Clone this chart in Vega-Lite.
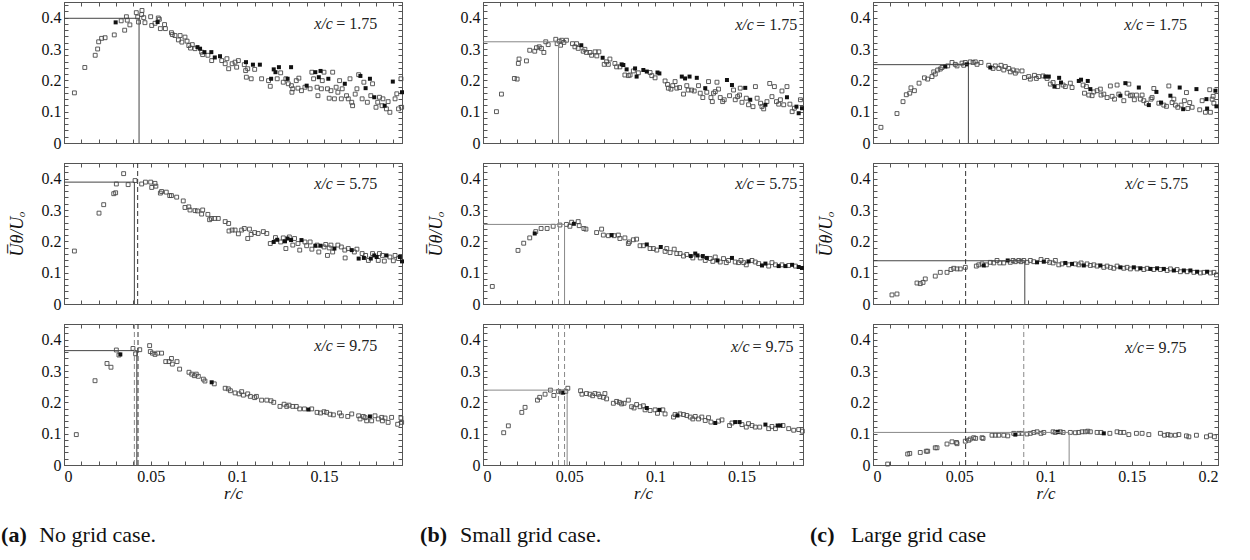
{
"$schema":"https://vega.github.io/schema/vega-lite/v6.json",
"padding":{"left":0,"top":1,"right":0,"bottom":0},
"background":"white",
"config":{"axis":{"labelFont":"Liberation Serif, Times New Roman, serif","labelFontSize":16,"labelColor":"#111","titleFont":"Liberation Serif, Times New Roman, serif","titleFontSize":17,"titleFontStyle":"italic","titleFontWeight":"normal","titleColor":"#111","tickColor":"#555","domainColor":"#555","tickSize":-4,"grid":false,"labelPadding":7},"view":{"stroke":"#555","strokeWidth":1}},
"datasets":{
"a1":[{"r":0.006,"u":0.16},{"r":0.012,"u":0.241},{"r":0.018,"u":0.28},{"r":0.0194,"u":0.3},{"r":0.02,"u":0.323},{"r":0.0217,"u":0.334},{"r":0.0237,"u":0.336},{"r":0.029,"u":0.345},{"r":0.0298,"u":0.385,"f":1},{"r":0.033,"u":0.39},{"r":0.035,"u":0.36},{"r":0.036,"u":0.403},{"r":0.0365,"u":0.392},{"r":0.038,"u":0.377},{"r":0.0417,"u":0.416},{"r":0.0425,"u":0.402},{"r":0.043,"u":0.386},{"r":0.045,"u":0.423},{"r":0.0448,"u":0.41},{"r":0.0467,"u":0.384},{"r":0.046,"u":0.4},{"r":0.05,"u":0.403},{"r":0.0506,"u":0.375},{"r":0.0525,"u":0.382},{"r":0.054,"u":0.386,"f":1},{"r":0.0544,"u":0.399},{"r":0.055,"u":0.395},{"r":0.0556,"u":0.365},{"r":0.058,"u":0.378},{"r":0.0585,"u":0.365},{"r":0.062,"u":0.352},{"r":0.0625,"u":0.346},{"r":0.064,"u":0.343},{"r":0.066,"u":0.329},{"r":0.067,"u":0.343},{"r":0.068,"u":0.322},{"r":0.0698,"u":0.338},{"r":0.071,"u":0.325},{"r":0.072,"u":0.311},{"r":0.073,"u":0.303},{"r":0.074,"u":0.314},{"r":0.0756,"u":0.301},{"r":0.077,"u":0.306,"f":1},{"r":0.0785,"u":0.301,"f":1},{"r":0.0794,"u":0.29},{"r":0.08,"u":0.282},{"r":0.081,"u":0.29,"f":1},{"r":0.083,"u":0.28},{"r":0.085,"u":0.29,"f":1},{"r":0.0852,"u":0.263},{"r":0.087,"u":0.273,"f":1},{"r":0.09,"u":0.277,"f":1},{"r":0.091,"u":0.263},{"r":0.093,"u":0.253},{"r":0.094,"u":0.269},{"r":0.095,"u":0.237},{"r":0.097,"u":0.253},{"r":0.0987,"u":0.258},{"r":0.0996,"u":0.242},{"r":0.1006,"u":0.263},{"r":0.104,"u":0.25},{"r":0.105,"u":0.258,"f":1},{"r":0.1048,"u":0.231},{"r":0.106,"u":0.237},{"r":0.1052,"u":0.21},{"r":0.108,"u":0.205},{"r":0.109,"u":0.25,"f":1},{"r":0.11,"u":0.235},{"r":0.113,"u":0.25,"f":1},{"r":0.114,"u":0.205},{"r":0.118,"u":0.199},{"r":0.119,"u":0.181},{"r":0.1195,"u":0.205,"f":1},{"r":0.121,"u":0.235,"f":1},{"r":0.122,"u":0.226,"f":1},{"r":0.123,"u":0.205},{"r":0.124,"u":0.242,"f":1},{"r":0.125,"u":0.224},{"r":0.1265,"u":0.194},{"r":0.128,"u":0.205},{"r":0.129,"u":0.205,"f":1},{"r":0.1294,"u":0.189},{"r":0.131,"u":0.242,"f":1},{"r":0.1312,"u":0.183},{"r":0.1315,"u":0.162},{"r":0.132,"u":0.173},{"r":0.134,"u":0.199},{"r":0.135,"u":0.175},{"r":0.1355,"u":0.207},{"r":0.137,"u":0.167},{"r":0.139,"u":0.178},{"r":0.14,"u":0.183,"f":1},{"r":0.142,"u":0.173},{"r":0.143,"u":0.226},{"r":0.144,"u":0.205},{"r":0.145,"u":0.226,"f":1},{"r":0.146,"u":0.178},{"r":0.1465,"u":0.151},{"r":0.147,"u":0.21,"f":1},{"r":0.148,"u":0.23,"f":1},{"r":0.1485,"u":0.173},{"r":0.149,"u":0.199},{"r":0.15,"u":0.226},{"r":0.152,"u":0.173},{"r":0.1525,"u":0.205,"f":1},{"r":0.153,"u":0.143},{"r":0.154,"u":0.167},{"r":0.155,"u":0.226},{"r":0.156,"u":0.141},{"r":0.157,"u":0.178},{"r":0.158,"u":0.162},{"r":0.159,"u":0.199},{"r":0.16,"u":0.141},{"r":0.1605,"u":0.173},{"r":0.162,"u":0.189,"f":1},{"r":0.163,"u":0.151},{"r":0.164,"u":0.141},{"r":0.165,"u":0.205},{"r":0.166,"u":0.13},{"r":0.1665,"u":0.119},{"r":0.168,"u":0.156},{"r":0.169,"u":0.173},{"r":0.17,"u":0.218},{"r":0.171,"u":0.214,"f":1},{"r":0.172,"u":0.141},{"r":0.173,"u":0.194},{"r":0.174,"u":0.175,"f":1},{"r":0.175,"u":0.13},{"r":0.1765,"u":0.205,"f":1},{"r":0.177,"u":0.151},{"r":0.178,"u":0.189},{"r":0.179,"u":0.146,"f":1},{"r":0.18,"u":0.114},{"r":0.181,"u":0.13},{"r":0.182,"u":0.146},{"r":0.1835,"u":0.119},{"r":0.184,"u":0.141},{"r":0.185,"u":0.119,"f":1},{"r":0.186,"u":0.109},{"r":0.187,"u":0.132},{"r":0.188,"u":0.098},{"r":0.1897,"u":0.196,"f":1},{"r":0.191,"u":0.141},{"r":0.192,"u":0.157},{"r":0.193,"u":0.109},{"r":0.1944,"u":0.205},{"r":0.195,"u":0.162,"f":1},{"r":0.1948,"u":0.114}],
"a1r":[{"r":0,"r2":0.0433,"u":0.398,"u2":0.398,"t":"s"},{"r":0.0433,"r2":0.0433,"u":0,"u2":0.398,"t":"s"}],
"a5":[{"r":0.006,"u":0.169},{"r":0.0202,"u":0.29},{"r":0.0229,"u":0.317},{"r":0.0287,"u":0.352},{"r":0.0298,"u":0.355},{"r":0.0302,"u":0.383},{"r":0.0344,"u":0.416},{"r":0.037,"u":0.381},{"r":0.041,"u":0.394},{"r":0.0448,"u":0.383},{"r":0.047,"u":0.389},{"r":0.05,"u":0.389},{"r":0.0506,"u":0.372},{"r":0.0525,"u":0.385},{"r":0.053,"u":0.376},{"r":0.0556,"u":0.354},{"r":0.0563,"u":0.359},{"r":0.059,"u":0.357},{"r":0.061,"u":0.346},{"r":0.062,"u":0.346},{"r":0.065,"u":0.341},{"r":0.0688,"u":0.329},{"r":0.0698,"u":0.308},{"r":0.072,"u":0.31},{"r":0.0727,"u":0.3},{"r":0.0756,"u":0.298},{"r":0.077,"u":0.297},{"r":0.0794,"u":0.287},{"r":0.08,"u":0.3},{"r":0.083,"u":0.286},{"r":0.084,"u":0.269},{"r":0.085,"u":0.273},{"r":0.087,"u":0.273},{"r":0.089,"u":0.273},{"r":0.093,"u":0.263},{"r":0.095,"u":0.257},{"r":0.0952,"u":0.233},{"r":0.097,"u":0.236},{"r":0.0987,"u":0.236},{"r":0.1006,"u":0.224},{"r":0.1025,"u":0.236},{"r":0.104,"u":0.241},{"r":0.106,"u":0.209},{"r":0.107,"u":0.239},{"r":0.108,"u":0.222},{"r":0.11,"u":0.228},{"r":0.112,"u":0.225},{"r":0.115,"u":0.231},{"r":0.117,"u":0.225},{"r":0.119,"u":0.193},{"r":0.121,"u":0.198,"f":1},{"r":0.122,"u":0.212},{"r":0.123,"u":0.205,"f":1},{"r":0.125,"u":0.198},{"r":0.1265,"u":0.211},{"r":0.1275,"u":0.2,"f":1},{"r":0.128,"u":0.177},{"r":0.129,"u":0.209,"f":1},{"r":0.13,"u":0.214},{"r":0.131,"u":0.204,"f":1},{"r":0.132,"u":0.188},{"r":0.133,"u":0.209},{"r":0.135,"u":0.193},{"r":0.136,"u":0.172},{"r":0.137,"u":0.204,"f":1},{"r":0.139,"u":0.198},{"r":0.14,"u":0.186},{"r":0.142,"u":0.198},{"r":0.143,"u":0.175},{"r":0.145,"u":0.186,"f":1},{"r":0.146,"u":0.188},{"r":0.147,"u":0.166},{"r":0.148,"u":0.186,"f":1},{"r":0.15,"u":0.182},{"r":0.151,"u":0.19},{"r":0.152,"u":0.155},{"r":0.153,"u":0.179},{"r":0.154,"u":0.188},{"r":0.155,"u":0.166},{"r":0.156,"u":0.177,"f":1},{"r":0.158,"u":0.188},{"r":0.16,"u":0.182},{"r":0.162,"u":0.172},{"r":0.1622,"u":0.147},{"r":0.164,"u":0.177},{"r":0.166,"u":0.172,"f":1},{"r":0.1675,"u":0.166},{"r":0.169,"u":0.175},{"r":0.17,"u":0.145,"f":1},{"r":0.172,"u":0.161},{"r":0.173,"u":0.147,"f":1},{"r":0.174,"u":0.155},{"r":0.1756,"u":0.139},{"r":0.177,"u":0.145,"f":1},{"r":0.178,"u":0.161},{"r":0.179,"u":0.155,"f":1},{"r":0.1804,"u":0.15,"f":1},{"r":0.1813,"u":0.139},{"r":0.182,"u":0.161},{"r":0.1837,"u":0.155},{"r":0.1848,"u":0.137},{"r":0.186,"u":0.155,"f":1},{"r":0.188,"u":0.15},{"r":0.19,"u":0.138},{"r":0.191,"u":0.155},{"r":0.193,"u":0.145},{"r":0.1938,"u":0.15,"f":1},{"r":0.195,"u":0.136,"f":1}],
"a5r":[{"r":0,"r2":0.0406,"u":0.389,"u2":0.389,"t":"s"},{"r":0.0406,"r2":0.0406,"u":0,"u2":0.389,"t":"s"},{"r":0.0425,"r2":0.0425,"u":0,"u2":0.45,"t":"d"}],
"a9":[{"r":0.0071,"u":0.097},{"r":0.0179,"u":0.269},{"r":0.0248,"u":0.324},{"r":0.0271,"u":0.312},{"r":0.0302,"u":0.367},{"r":0.0317,"u":0.351},{"r":0.0325,"u":0.353,"f":1},{"r":0.0398,"u":0.372},{"r":0.0413,"u":0.355},{"r":0.0437,"u":0.368},{"r":0.0494,"u":0.381},{"r":0.0498,"u":0.362},{"r":0.051,"u":0.357},{"r":0.0525,"u":0.353},{"r":0.054,"u":0.357},{"r":0.0563,"u":0.357},{"r":0.0587,"u":0.33},{"r":0.0606,"u":0.33},{"r":0.062,"u":0.34},{"r":0.0625,"u":0.322},{"r":0.0652,"u":0.33},{"r":0.0667,"u":0.306},{"r":0.0721,"u":0.296},{"r":0.0737,"u":0.29},{"r":0.0752,"u":0.285},{"r":0.0763,"u":0.29},{"r":0.0775,"u":0.283},{"r":0.0804,"u":0.274},{"r":0.0813,"u":0.268},{"r":0.0852,"u":0.264,"f":1},{"r":0.0867,"u":0.259},{"r":0.093,"u":0.245},{"r":0.0948,"u":0.243},{"r":0.096,"u":0.237},{"r":0.0987,"u":0.23},{"r":0.101,"u":0.227},{"r":0.1025,"u":0.234},{"r":0.1035,"u":0.223},{"r":0.106,"u":0.227},{"r":0.1075,"u":0.219},{"r":0.11,"u":0.215},{"r":0.111,"u":0.219},{"r":0.114,"u":0.207},{"r":0.117,"u":0.207},{"r":0.1194,"u":0.205},{"r":0.121,"u":0.2},{"r":0.1246,"u":0.187},{"r":0.127,"u":0.194},{"r":0.1285,"u":0.187},{"r":0.1298,"u":0.191},{"r":0.132,"u":0.187},{"r":0.134,"u":0.187},{"r":0.136,"u":0.179},{"r":0.1387,"u":0.179},{"r":0.141,"u":0.177,"f":1},{"r":0.1429,"u":0.179},{"r":0.146,"u":0.168},{"r":0.148,"u":0.166},{"r":0.15,"u":0.17},{"r":0.1515,"u":0.168},{"r":0.1535,"u":0.162},{"r":0.1554,"u":0.16},{"r":0.159,"u":0.166},{"r":0.16,"u":0.157},{"r":0.1637,"u":0.155},{"r":0.166,"u":0.163},{"r":0.17,"u":0.157},{"r":0.1708,"u":0.147},{"r":0.1727,"u":0.155},{"r":0.1737,"u":0.151},{"r":0.1746,"u":0.141},{"r":0.1765,"u":0.155,"f":1},{"r":0.1775,"u":0.141},{"r":0.1794,"u":0.157},{"r":0.1813,"u":0.147},{"r":0.1833,"u":0.152},{"r":0.1837,"u":0.141},{"r":0.1852,"u":0.15},{"r":0.187,"u":0.136},{"r":0.189,"u":0.152},{"r":0.1925,"u":0.13},{"r":0.1944,"u":0.15},{"r":0.1948,"u":0.136}],
"a9r":[{"r":0,"r2":0.042,"u":0.365,"u2":0.365,"t":"s"},{"r":0.042,"r2":0.042,"u":0,"u2":0.365,"t":"s"},{"r":0.0406,"r2":0.0406,"u":0,"u2":0.45,"t":"dg"},{"r":0.0427,"r2":0.0427,"u":0,"u2":0.45,"t":"d"}],
"b1":[{"r":0.0078,"u":0.1},{"r":0.0107,"u":0.156},{"r":0.0182,"u":0.206},{"r":0.0198,"u":0.204},{"r":0.0205,"u":0.254},{"r":0.0209,"u":0.268},{"r":0.0252,"u":0.262},{"r":0.0271,"u":0.296},{"r":0.03,"u":0.293},{"r":0.031,"u":0.304},{"r":0.0326,"u":0.307},{"r":0.0339,"u":0.302},{"r":0.0353,"u":0.289},{"r":0.0364,"u":0.323},{"r":0.0378,"u":0.314},{"r":0.0422,"u":0.331},{"r":0.043,"u":0.317},{"r":0.0442,"u":0.325},{"r":0.045,"u":0.312},{"r":0.0457,"u":0.328},{"r":0.0469,"u":0.321},{"r":0.0484,"u":0.328},{"r":0.0519,"u":0.317},{"r":0.0533,"u":0.307},{"r":0.0543,"u":0.317},{"r":0.0552,"u":0.302},{"r":0.057,"u":0.312,"f":1},{"r":0.0581,"u":0.293},{"r":0.0591,"u":0.299},{"r":0.06,"u":0.289},{"r":0.062,"u":0.289},{"r":0.063,"u":0.28},{"r":0.065,"u":0.291},{"r":0.066,"u":0.278},{"r":0.0672,"u":0.291},{"r":0.0694,"u":0.272,"f":1},{"r":0.0703,"u":0.251},{"r":0.0717,"u":0.259},{"r":0.0727,"u":0.251},{"r":0.0736,"u":0.268},{"r":0.0765,"u":0.254},{"r":0.0775,"u":0.243},{"r":0.0794,"u":0.243},{"r":0.0804,"u":0.251,"f":1},{"r":0.0814,"u":0.249,"f":1},{"r":0.0823,"u":0.217},{"r":0.0833,"u":0.235,"f":1},{"r":0.0843,"u":0.215},{"r":0.0853,"u":0.217},{"r":0.0872,"u":0.23},{"r":0.0882,"u":0.238,"f":1},{"r":0.0891,"u":0.212,"f":1},{"r":0.0901,"u":0.224},{"r":0.093,"u":0.233,"f":1},{"r":0.095,"u":0.228,"f":1},{"r":0.0969,"u":0.225},{"r":0.0979,"u":0.215},{"r":0.0998,"u":0.208},{"r":0.1012,"u":0.225,"f":1},{"r":0.1023,"u":0.222,"f":1},{"r":0.1056,"u":0.198},{"r":0.107,"u":0.187},{"r":0.1075,"u":0.175},{"r":0.109,"u":0.172},{"r":0.11,"u":0.183},{"r":0.1114,"u":0.196},{"r":0.1124,"u":0.175},{"r":0.114,"u":0.177},{"r":0.1153,"u":0.212,"f":1},{"r":0.1163,"u":0.156},{"r":0.1172,"u":0.206,"f":1},{"r":0.1182,"u":0.183},{"r":0.119,"u":0.169},{"r":0.1198,"u":0.212,"f":1},{"r":0.121,"u":0.169},{"r":0.1225,"u":0.166},{"r":0.124,"u":0.208,"f":1},{"r":0.125,"u":0.183},{"r":0.126,"u":0.159},{"r":0.1275,"u":0.145},{"r":0.1289,"u":0.175,"f":1},{"r":0.1298,"u":0.162},{"r":0.1308,"u":0.196},{"r":0.1322,"u":0.145},{"r":0.133,"u":0.132},{"r":0.1337,"u":0.159},{"r":0.1347,"u":0.164},{"r":0.1357,"u":0.194},{"r":0.1366,"u":0.172},{"r":0.1376,"u":0.145},{"r":0.139,"u":0.132},{"r":0.1399,"u":0.138},{"r":0.1415,"u":0.201,"f":1},{"r":0.143,"u":0.151},{"r":0.1444,"u":0.185,"f":1},{"r":0.1453,"u":0.169},{"r":0.1463,"u":0.138},{"r":0.1477,"u":0.148},{"r":0.1488,"u":0.153},{"r":0.1492,"u":0.175},{"r":0.1502,"u":0.13},{"r":0.1521,"u":0.176,"f":1},{"r":0.1527,"u":0.143},{"r":0.154,"u":0.122},{"r":0.155,"u":0.138,"f":1},{"r":0.1566,"u":0.116},{"r":0.158,"u":0.18},{"r":0.159,"u":0.143},{"r":0.161,"u":0.127},{"r":0.1618,"u":0.116},{"r":0.1628,"u":0.109},{"r":0.1638,"u":0.122,"f":1},{"r":0.1647,"u":0.132},{"r":0.1663,"u":0.19},{"r":0.1676,"u":0.148},{"r":0.169,"u":0.18},{"r":0.1702,"u":0.132},{"r":0.1715,"u":0.124},{"r":0.1725,"u":0.138},{"r":0.1734,"u":0.166},{"r":0.1744,"u":0.122},{"r":0.1763,"u":0.18},{"r":0.1763,"u":0.146,"f":1},{"r":0.178,"u":0.124},{"r":0.1793,"u":0.1},{"r":0.1806,"u":0.111},{"r":0.1818,"u":0.116,"f":1},{"r":0.1831,"u":0.095,"f":1},{"r":0.1841,"u":0.138},{"r":0.185,"u":0.111,"f":1}],
"b1r":[{"r":0,"r2":0.0438,"u":0.323,"u2":0.323,"t":"sg"},{"r":0.0438,"r2":0.0438,"u":0,"u2":0.323,"t":"sg"}],
"b5":[{"r":0.0054,"u":0.056},{"r":0.0203,"u":0.171},{"r":0.0236,"u":0.194},{"r":0.0271,"u":0.211},{"r":0.03,"u":0.225,"f":1},{"r":0.0306,"u":0.231},{"r":0.0337,"u":0.241},{"r":0.0372,"u":0.241},{"r":0.0407,"u":0.248},{"r":0.0446,"u":0.252},{"r":0.0484,"u":0.254},{"r":0.0504,"u":0.248},{"r":0.0514,"u":0.261},{"r":0.0527,"u":0.256,"f":1},{"r":0.0552,"u":0.263},{"r":0.0558,"u":0.25},{"r":0.0585,"u":0.241},{"r":0.0597,"u":0.239},{"r":0.0659,"u":0.228},{"r":0.0688,"u":0.239},{"r":0.0698,"u":0.22},{"r":0.0727,"u":0.218},{"r":0.0746,"u":0.22,"f":1},{"r":0.076,"u":0.218},{"r":0.0785,"u":0.22},{"r":0.0794,"u":0.209},{"r":0.0823,"u":0.211},{"r":0.0843,"u":0.193},{"r":0.0849,"u":0.198},{"r":0.0872,"u":0.205},{"r":0.0891,"u":0.207},{"r":0.0911,"u":0.186},{"r":0.093,"u":0.186},{"r":0.095,"u":0.19,"f":1},{"r":0.0969,"u":0.177},{"r":0.0988,"u":0.177},{"r":0.1008,"u":0.172},{"r":0.1031,"u":0.182,"f":1},{"r":0.1056,"u":0.168},{"r":0.1066,"u":0.177},{"r":0.1085,"u":0.164},{"r":0.1109,"u":0.175},{"r":0.1124,"u":0.161},{"r":0.1143,"u":0.161},{"r":0.1163,"u":0.153},{"r":0.1182,"u":0.158},{"r":0.1205,"u":0.153,"f":1},{"r":0.1217,"u":0.147},{"r":0.1231,"u":0.161,"f":1},{"r":0.1244,"u":0.155,"f":1},{"r":0.126,"u":0.147},{"r":0.1275,"u":0.153,"f":1},{"r":0.1289,"u":0.139},{"r":0.1298,"u":0.147,"f":1},{"r":0.1318,"u":0.145},{"r":0.1333,"u":0.136},{"r":0.1347,"u":0.15},{"r":0.136,"u":0.139,"f":1},{"r":0.1376,"u":0.134},{"r":0.1395,"u":0.145},{"r":0.1411,"u":0.132},{"r":0.1424,"u":0.139},{"r":0.1444,"u":0.147,"f":1},{"r":0.1463,"u":0.134},{"r":0.1482,"u":0.132},{"r":0.1496,"u":0.139},{"r":0.1512,"u":0.132},{"r":0.1527,"u":0.125},{"r":0.154,"u":0.136,"f":1},{"r":0.156,"u":0.139},{"r":0.1579,"u":0.134},{"r":0.1599,"u":0.129},{"r":0.1618,"u":0.123,"f":1},{"r":0.1638,"u":0.129,"f":1},{"r":0.1657,"u":0.121},{"r":0.1676,"u":0.132},{"r":0.1696,"u":0.125},{"r":0.1715,"u":0.121,"f":1},{"r":0.1734,"u":0.125},{"r":0.1754,"u":0.121,"f":1},{"r":0.1773,"u":0.123},{"r":0.1793,"u":0.125,"f":1},{"r":0.1812,"u":0.121},{"r":0.1831,"u":0.118,"f":1},{"r":0.185,"u":0.115,"f":1}],
"b5r":[{"r":0,"r2":0.0473,"u":0.254,"u2":0.254,"t":"sg"},{"r":0.0473,"r2":0.0473,"u":0,"u2":0.254,"t":"sg"},{"r":0.0438,"r2":0.0438,"u":0,"u2":0.45,"t":"dg"}],
"b9":[{"r":0.012,"u":0.103},{"r":0.0147,"u":0.125},{"r":0.0225,"u":0.168},{"r":0.0244,"u":0.184},{"r":0.0316,"u":0.207},{"r":0.0329,"u":0.216},{"r":0.036,"u":0.226},{"r":0.0391,"u":0.239},{"r":0.0411,"u":0.222},{"r":0.0438,"u":0.235},{"r":0.0455,"u":0.233},{"r":0.0465,"u":0.231,"f":1},{"r":0.048,"u":0.235},{"r":0.0492,"u":0.245},{"r":0.0566,"u":0.237},{"r":0.0574,"u":0.226},{"r":0.06,"u":0.228},{"r":0.062,"u":0.226},{"r":0.0636,"u":0.221},{"r":0.0649,"u":0.228},{"r":0.0669,"u":0.226},{"r":0.0678,"u":0.218},{"r":0.0698,"u":0.216},{"r":0.0707,"u":0.228},{"r":0.0717,"u":0.211},{"r":0.0756,"u":0.197},{"r":0.0775,"u":0.203},{"r":0.0791,"u":0.2},{"r":0.0804,"u":0.195},{"r":0.0818,"u":0.197},{"r":0.0843,"u":0.207},{"r":0.0862,"u":0.186},{"r":0.0876,"u":0.182},{"r":0.0891,"u":0.193},{"r":0.0911,"u":0.186},{"r":0.093,"u":0.189},{"r":0.094,"u":0.176},{"r":0.095,"u":0.182,"f":1},{"r":0.0969,"u":0.174},{"r":0.0998,"u":0.176},{"r":0.1012,"u":0.165},{"r":0.1023,"u":0.176,"f":1},{"r":0.1043,"u":0.176},{"r":0.1056,"u":0.163},{"r":0.1105,"u":0.153},{"r":0.1114,"u":0.161},{"r":0.1128,"u":0.158,"f":1},{"r":0.1143,"u":0.163},{"r":0.1163,"u":0.161},{"r":0.1182,"u":0.158},{"r":0.1202,"u":0.153},{"r":0.1217,"u":0.147},{"r":0.1231,"u":0.155},{"r":0.125,"u":0.147},{"r":0.1269,"u":0.153},{"r":0.1289,"u":0.142},{"r":0.1308,"u":0.151},{"r":0.1322,"u":0.137},{"r":0.1347,"u":0.134,"f":1},{"r":0.1366,"u":0.14},{"r":0.1386,"u":0.144},{"r":0.143,"u":0.126},{"r":0.1444,"u":0.134},{"r":0.1463,"u":0.137,"f":1},{"r":0.1488,"u":0.137,"f":1},{"r":0.1502,"u":0.129},{"r":0.1527,"u":0.121},{"r":0.154,"u":0.132},{"r":0.156,"u":0.126},{"r":0.1579,"u":0.121},{"r":0.1605,"u":0.121},{"r":0.1638,"u":0.129,"f":1},{"r":0.1657,"u":0.116},{"r":0.1676,"u":0.123},{"r":0.1696,"u":0.116},{"r":0.1709,"u":0.126,"f":1},{"r":0.1725,"u":0.126,"f":1},{"r":0.174,"u":0.126},{"r":0.1773,"u":0.116},{"r":0.1802,"u":0.111},{"r":0.1831,"u":0.113},{"r":0.1852,"u":0.108}],
"b9r":[{"r":0,"r2":0.0488,"u":0.239,"u2":0.239,"t":"sg"},{"r":0.0488,"r2":0.0488,"u":0,"u2":0.239,"t":"sg"},{"r":0.0438,"r2":0.0438,"u":0,"u2":0.45,"t":"dg"},{"r":0.0473,"r2":0.0473,"u":0,"u2":0.45,"t":"dg"}],
"c1":[{"r":0.0046,"u":0.05},{"r":0.0139,"u":0.094},{"r":0.0174,"u":0.132},{"r":0.0193,"u":0.154},{"r":0.0213,"u":0.159},{"r":0.022,"u":0.176},{"r":0.024,"u":0.167},{"r":0.0267,"u":0.191},{"r":0.0298,"u":0.208},{"r":0.0317,"u":0.204},{"r":0.0342,"u":0.212},{"r":0.0352,"u":0.227},{"r":0.0361,"u":0.22},{"r":0.0375,"u":0.233},{"r":0.039,"u":0.236},{"r":0.04,"u":0.241},{"r":0.0419,"u":0.244,"f":1},{"r":0.0433,"u":0.246},{"r":0.0458,"u":0.257},{"r":0.0477,"u":0.251},{"r":0.0487,"u":0.246},{"r":0.0516,"u":0.255},{"r":0.0526,"u":0.248},{"r":0.0535,"u":0.257},{"r":0.0545,"u":0.251,"f":1},{"r":0.0564,"u":0.259},{"r":0.058,"u":0.257},{"r":0.0593,"u":0.259},{"r":0.0603,"u":0.251},{"r":0.0626,"u":0.257},{"r":0.0671,"u":0.248},{"r":0.068,"u":0.241,"f":1},{"r":0.0696,"u":0.238},{"r":0.0709,"u":0.246},{"r":0.0729,"u":0.238},{"r":0.0742,"u":0.248},{"r":0.0758,"u":0.233},{"r":0.0767,"u":0.244},{"r":0.0787,"u":0.238},{"r":0.0796,"u":0.227},{"r":0.0812,"u":0.233},{"r":0.0825,"u":0.223},{"r":0.0835,"u":0.23},{"r":0.0864,"u":0.23},{"r":0.0878,"u":0.209},{"r":0.0903,"u":0.212},{"r":0.0912,"u":0.204},{"r":0.0936,"u":0.216},{"r":0.0947,"u":0.206},{"r":0.0961,"u":0.212},{"r":0.0986,"u":0.214},{"r":0.0999,"u":0.212,"f":1},{"r":0.1009,"u":0.206},{"r":0.1019,"u":0.212,"f":1},{"r":0.1028,"u":0.188},{"r":0.1044,"u":0.193},{"r":0.1052,"u":0.18,"f":1},{"r":0.1071,"u":0.18},{"r":0.1079,"u":0.208,"f":1},{"r":0.109,"u":0.193,"f":1},{"r":0.1102,"u":0.185},{"r":0.1115,"u":0.18},{"r":0.1144,"u":0.191},{"r":0.1154,"u":0.177},{"r":0.1193,"u":0.198,"f":1},{"r":0.1206,"u":0.202,"f":1},{"r":0.1218,"u":0.185},{"r":0.1226,"u":0.159},{"r":0.1237,"u":0.18},{"r":0.1245,"u":0.198,"f":1},{"r":0.1251,"u":0.153},{"r":0.126,"u":0.172,"f":1},{"r":0.127,"u":0.151},{"r":0.128,"u":0.163},{"r":0.1299,"u":0.167},{"r":0.1318,"u":0.172},{"r":0.1322,"u":0.153},{"r":0.1338,"u":0.156},{"r":0.1357,"u":0.145},{"r":0.1376,"u":0.182},{"r":0.1386,"u":0.149},{"r":0.14,"u":0.14},{"r":0.1415,"u":0.185},{"r":0.1425,"u":0.156},{"r":0.1434,"u":0.151,"f":1},{"r":0.1454,"u":0.135},{"r":0.1463,"u":0.191,"f":1},{"r":0.1473,"u":0.159},{"r":0.1483,"u":0.188},{"r":0.1492,"u":0.151},{"r":0.1502,"u":0.153},{"r":0.1515,"u":0.138},{"r":0.1527,"u":0.153},{"r":0.1541,"u":0.177,"f":1},{"r":0.155,"u":0.14},{"r":0.156,"u":0.153},{"r":0.157,"u":0.135},{"r":0.1585,"u":0.127},{"r":0.1599,"u":0.121,"f":1},{"r":0.1612,"u":0.14},{"r":0.1618,"u":0.145},{"r":0.1628,"u":0.174},{"r":0.1643,"u":0.163,"f":1},{"r":0.1657,"u":0.127},{"r":0.167,"u":0.129,"f":1},{"r":0.1686,"u":0.121},{"r":0.1701,"u":0.117},{"r":0.1715,"u":0.182},{"r":0.1724,"u":0.151,"f":1},{"r":0.1734,"u":0.129},{"r":0.1744,"u":0.14},{"r":0.1753,"u":0.121},{"r":0.1767,"u":0.114},{"r":0.1778,"u":0.177,"f":1},{"r":0.1786,"u":0.121},{"r":0.1798,"u":0.108,"f":1},{"r":0.1805,"u":0.135},{"r":0.1817,"u":0.161},{"r":0.1825,"u":0.11},{"r":0.1836,"u":0.129},{"r":0.185,"u":0.114},{"r":0.1875,"u":0.172,"f":1},{"r":0.1894,"u":0.106},{"r":0.1908,"u":0.135},{"r":0.1927,"u":0.098},{"r":0.1933,"u":0.14,"f":1},{"r":0.1937,"u":0.11,"f":1},{"r":0.1952,"u":0.17},{"r":0.1956,"u":0.098},{"r":0.1966,"u":0.14},{"r":0.1972,"u":0.149},{"r":0.1976,"u":0.127},{"r":0.1985,"u":0.167,"f":1},{"r":0.1991,"u":0.117,"f":1}],
"c1r":[{"r":0,"r2":0.0553,"u":0.25,"u2":0.25,"t":"s"},{"r":0.0553,"r2":0.0553,"u":0,"u2":0.25,"t":"s"}],
"c5":[{"r":0.011,"u":0.029},{"r":0.0139,"u":0.032},{"r":0.0255,"u":0.067},{"r":0.0274,"u":0.065},{"r":0.029,"u":0.069},{"r":0.0303,"u":0.08},{"r":0.0361,"u":0.089},{"r":0.039,"u":0.101},{"r":0.0429,"u":0.101},{"r":0.0452,"u":0.11},{"r":0.0468,"u":0.114},{"r":0.0487,"u":0.112},{"r":0.0506,"u":0.112},{"r":0.0535,"u":0.117},{"r":0.0599,"u":0.121},{"r":0.0613,"u":0.125},{"r":0.0632,"u":0.128},{"r":0.0642,"u":0.123,"f":1},{"r":0.0657,"u":0.125},{"r":0.068,"u":0.133},{"r":0.07,"u":0.131},{"r":0.0719,"u":0.139},{"r":0.0735,"u":0.131},{"r":0.0758,"u":0.131},{"r":0.0781,"u":0.139,"f":1},{"r":0.0796,"u":0.133},{"r":0.0812,"u":0.139},{"r":0.0825,"u":0.135},{"r":0.0845,"u":0.139},{"r":0.0858,"u":0.135},{"r":0.0874,"u":0.139},{"r":0.0893,"u":0.133},{"r":0.0912,"u":0.139},{"r":0.0932,"u":0.135},{"r":0.0951,"u":0.133,"f":1},{"r":0.0974,"u":0.142},{"r":0.099,"u":0.135,"f":1},{"r":0.1009,"u":0.139},{"r":0.1024,"u":0.133},{"r":0.1044,"u":0.131},{"r":0.1057,"u":0.139},{"r":0.1077,"u":0.125},{"r":0.1096,"u":0.128},{"r":0.1115,"u":0.131,"f":1},{"r":0.1135,"u":0.125},{"r":0.1154,"u":0.128,"f":1},{"r":0.1173,"u":0.128},{"r":0.1193,"u":0.125},{"r":0.1206,"u":0.131},{"r":0.1222,"u":0.123,"f":1},{"r":0.1241,"u":0.128},{"r":0.126,"u":0.123},{"r":0.128,"u":0.125},{"r":0.1299,"u":0.121},{"r":0.1318,"u":0.123,"f":1},{"r":0.1338,"u":0.117},{"r":0.1357,"u":0.121},{"r":0.1376,"u":0.117},{"r":0.1396,"u":0.114},{"r":0.1415,"u":0.121},{"r":0.1434,"u":0.117,"f":1},{"r":0.1454,"u":0.114},{"r":0.1473,"u":0.117},{"r":0.1492,"u":0.112},{"r":0.1512,"u":0.117,"f":1},{"r":0.1531,"u":0.112},{"r":0.155,"u":0.114,"f":1},{"r":0.157,"u":0.11},{"r":0.1589,"u":0.114},{"r":0.1608,"u":0.112,"f":1},{"r":0.1628,"u":0.11},{"r":0.1647,"u":0.114,"f":1},{"r":0.1666,"u":0.11},{"r":0.1686,"u":0.112,"f":1},{"r":0.1705,"u":0.107},{"r":0.1724,"u":0.112},{"r":0.1744,"u":0.107,"f":1},{"r":0.1763,"u":0.11},{"r":0.1782,"u":0.103},{"r":0.1802,"u":0.107,"f":1},{"r":0.1821,"u":0.103},{"r":0.184,"u":0.107,"f":1},{"r":0.186,"u":0.101},{"r":0.1879,"u":0.103,"f":1},{"r":0.1898,"u":0.099},{"r":0.1918,"u":0.101},{"r":0.1937,"u":0.103,"f":1},{"r":0.1956,"u":0.099},{"r":0.1976,"u":0.101},{"r":0.1991,"u":0.093}],
"c5r":[{"r":0,"r2":0.088,"u":0.138,"u2":0.138,"t":"s"},{"r":0.088,"r2":0.088,"u":0,"u2":0.138,"t":"s"},{"r":0.0537,"r2":0.0537,"u":0,"u2":0.45,"t":"d"}],
"c9":[{"r":0.0085,"u":0.003},{"r":0.0201,"u":0.035},{"r":0.0213,"u":0.037},{"r":0.0274,"u":0.04},{"r":0.0309,"u":0.044},{"r":0.0317,"u":0.044},{"r":0.0361,"u":0.055},{"r":0.0371,"u":0.055},{"r":0.0429,"u":0.067},{"r":0.0458,"u":0.074},{"r":0.0484,"u":0.072},{"r":0.0487,"u":0.068},{"r":0.0535,"u":0.076},{"r":0.0555,"u":0.079},{"r":0.0564,"u":0.083},{"r":0.0584,"u":0.087},{"r":0.0595,"u":0.085},{"r":0.0632,"u":0.087},{"r":0.0638,"u":0.085},{"r":0.069,"u":0.095},{"r":0.0709,"u":0.095},{"r":0.0729,"u":0.095},{"r":0.0758,"u":0.095},{"r":0.0781,"u":0.093},{"r":0.0816,"u":0.101},{"r":0.0825,"u":0.097,"f":1},{"r":0.0845,"u":0.101},{"r":0.0864,"u":0.101},{"r":0.0893,"u":0.099},{"r":0.0912,"u":0.101},{"r":0.0932,"u":0.104},{"r":0.0951,"u":0.106},{"r":0.0974,"u":0.101},{"r":0.099,"u":0.104},{"r":0.1044,"u":0.106},{"r":0.1057,"u":0.104},{"r":0.1071,"u":0.106,"f":1},{"r":0.1086,"u":0.106},{"r":0.1102,"u":0.104},{"r":0.1144,"u":0.104},{"r":0.1173,"u":0.103},{"r":0.1193,"u":0.104},{"r":0.1212,"u":0.106},{"r":0.1231,"u":0.106},{"r":0.1245,"u":0.108},{"r":0.126,"u":0.106},{"r":0.1299,"u":0.104},{"r":0.1322,"u":0.104},{"r":0.1338,"u":0.101,"f":1},{"r":0.1373,"u":0.101},{"r":0.1415,"u":0.106},{"r":0.1434,"u":0.104},{"r":0.1454,"u":0.104},{"r":0.1483,"u":0.097},{"r":0.1527,"u":0.101},{"r":0.156,"u":0.101},{"r":0.1599,"u":0.097},{"r":0.1666,"u":0.101},{"r":0.169,"u":0.095},{"r":0.1709,"u":0.097},{"r":0.1724,"u":0.095},{"r":0.1753,"u":0.095},{"r":0.1773,"u":0.097},{"r":0.1817,"u":0.093},{"r":0.1831,"u":0.09},{"r":0.1875,"u":0.095},{"r":0.1933,"u":0.09},{"r":0.1956,"u":0.095},{"r":0.1979,"u":0.09}],
"c9r":[{"r":0,"r2":0.1137,"u":0.104,"u2":0.104,"t":"sg"},{"r":0.1137,"r2":0.1137,"u":0,"u2":0.104,"t":"sg"},{"r":0.0537,"r2":0.0537,"u":0,"u2":0.45,"t":"d"},{"r":0.0874,"r2":0.0874,"u":0,"u2":0.45,"t":"dg"}]
},
"spacing":13,
"hconcat":[
{"bounds":"flush","spacing":20,"vconcat":[
{"width":338,"height":141,"resolve":{"axis":{"x":"independent","y":"independent"}},"layer":[
{"data":{"name":"a1"},"transform":[{"filter":"datum.f != 1"}],"mark":{"type":"point","shape":"square","filled":false,"size":15,"color":"#4a4a4a","strokeWidth":0.9,"opacity":1},"encoding":{"x":{"field":"r","type":"quantitative","scale":{"domain":[0,0.195],"nice":false,"zero":false},"axis":{"values":[0,0.01,0.02,0.03,0.04,0.05,0.06,0.07,0.08,0.09,0.1,0.11,0.12,0.13,0.14,0.15,0.16,0.17,0.18,0.19],"labels":false,"title":null}},"y":{"field":"u","type":"quantitative","scale":{"domain":[0,0.45],"nice":false},"axis":{"values":[0,0.02,0.04,0.06,0.08,0.1,0.12,0.14,0.16,0.18,0.2,0.22,0.24,0.26,0.28,0.3,0.32,0.34,0.36,0.38,0.4,0.42,0.44],"labelExpr":"abs(datum.value*10-round(datum.value*10))<0.001 ? format(datum.value,'~g') : ''","title":null}}}},
{"data":{"name":"a1"},"transform":[{"filter":"datum.f == 1"}],"mark":{"type":"square","size":16,"color":"#111","opacity":1},"encoding":{"x":{"field":"r","type":"quantitative","axis":null},"y":{"field":"u","type":"quantitative","axis":null}}},
{"data":{"name":"a1r"},"mark":{"type":"rule","strokeWidth":1},"encoding":{"x":{"field":"r","type":"quantitative","axis":null},"x2":{"field":"r2"},"y":{"field":"u","type":"quantitative","axis":null},"y2":{"field":"u2"},"strokeDash":{"field":"t","type":"nominal","scale":{"domain":["s","d","sg","dg"],"range":[[1,0],[5,3],[1,0],[5,3]]},"legend":null},"color":{"field":"t","type":"nominal","scale":{"domain":["s","d","sg","dg"],"range":["#444","#333","#888","#888"]},"legend":null}}},
{"data":{"values":[{"r":0.1444,"u":0.38,"s":"x/c"}]},"mark":{"type":"text","font":"Liberation Serif, Times New Roman, serif","fontSize":16,"fontStyle":"italic","align":"left","baseline":"middle","color":"#222"},"encoding":{"x":{"field":"r","type":"quantitative","axis":{"orient":"top","values":[0,0.01,0.02,0.03,0.04,0.05,0.06,0.07,0.08,0.09,0.1,0.11,0.12,0.13,0.14,0.15,0.16,0.17,0.18,0.19],"labels":false,"title":null}},"y":{"field":"u","type":"quantitative","axis":{"orient":"right","values":[0,0.02,0.04,0.06,0.08,0.1,0.12,0.14,0.16,0.18,0.2,0.22,0.24,0.26,0.28,0.3,0.32,0.34,0.36,0.38,0.4,0.42,0.44],"labels":false,"title":null}},"text":{"field":"s"}}},
{"data":{"values":[{"r":0.157,"u":0.38,"s":"= 1.75"}]},"mark":{"type":"text","font":"Liberation Serif, Times New Roman, serif","fontSize":16,"align":"left","baseline":"middle","color":"#222"},"encoding":{"x":{"field":"r","type":"quantitative","axis":null},"y":{"field":"u","type":"quantitative","axis":null},"text":{"field":"s"}}}
]},
{"width":338,"height":141,"resolve":{"axis":{"x":"independent","y":"independent"}},"layer":[
{"data":{"name":"a5"},"transform":[{"filter":"datum.f != 1"}],"mark":{"type":"point","shape":"square","filled":false,"size":15,"color":"#4a4a4a","strokeWidth":0.9,"opacity":1},"encoding":{"x":{"field":"r","type":"quantitative","scale":{"domain":[0,0.195],"nice":false,"zero":false},"axis":{"values":[0,0.01,0.02,0.03,0.04,0.05,0.06,0.07,0.08,0.09,0.1,0.11,0.12,0.13,0.14,0.15,0.16,0.17,0.18,0.19],"labels":false,"title":null}},"y":{"field":"u","type":"quantitative","scale":{"domain":[0,0.45],"nice":false},"axis":{"values":[0,0.02,0.04,0.06,0.08,0.1,0.12,0.14,0.16,0.18,0.2,0.22,0.24,0.26,0.28,0.3,0.32,0.34,0.36,0.38,0.4,0.42,0.44],"labelExpr":"abs(datum.value*10-round(datum.value*10))<0.001 ? format(datum.value,'~g') : ''","title":"U̅θ/Uₒ","titlePadding":15,"titleFontSize":18}}}},
{"data":{"name":"a5"},"transform":[{"filter":"datum.f == 1"}],"mark":{"type":"square","size":16,"color":"#111","opacity":1},"encoding":{"x":{"field":"r","type":"quantitative","axis":null},"y":{"field":"u","type":"quantitative","axis":null}}},
{"data":{"name":"a5r"},"mark":{"type":"rule","strokeWidth":1},"encoding":{"x":{"field":"r","type":"quantitative","axis":null},"x2":{"field":"r2"},"y":{"field":"u","type":"quantitative","axis":null},"y2":{"field":"u2"},"strokeDash":{"field":"t","type":"nominal","scale":{"domain":["s","d","sg","dg"],"range":[[1,0],[5,3],[1,0],[5,3]]},"legend":null},"color":{"field":"t","type":"nominal","scale":{"domain":["s","d","sg","dg"],"range":["#444","#333","#888","#888"]},"legend":null}}},
{"data":{"values":[{"r":0.1444,"u":0.383,"s":"x/c"}]},"mark":{"type":"text","font":"Liberation Serif, Times New Roman, serif","fontSize":16,"fontStyle":"italic","align":"left","baseline":"middle","color":"#222"},"encoding":{"x":{"field":"r","type":"quantitative","axis":{"orient":"top","values":[0,0.01,0.02,0.03,0.04,0.05,0.06,0.07,0.08,0.09,0.1,0.11,0.12,0.13,0.14,0.15,0.16,0.17,0.18,0.19],"labels":false,"title":null}},"y":{"field":"u","type":"quantitative","axis":{"orient":"right","values":[0,0.02,0.04,0.06,0.08,0.1,0.12,0.14,0.16,0.18,0.2,0.22,0.24,0.26,0.28,0.3,0.32,0.34,0.36,0.38,0.4,0.42,0.44],"labels":false,"title":null}},"text":{"field":"s"}}},
{"data":{"values":[{"r":0.157,"u":0.383,"s":"= 5.75"}]},"mark":{"type":"text","font":"Liberation Serif, Times New Roman, serif","fontSize":16,"align":"left","baseline":"middle","color":"#222"},"encoding":{"x":{"field":"r","type":"quantitative","axis":null},"y":{"field":"u","type":"quantitative","axis":null},"text":{"field":"s"}}}
]},
{"width":338,"height":141,"resolve":{"axis":{"x":"independent","y":"independent"}},"layer":[
{"data":{"name":"a9"},"transform":[{"filter":"datum.f != 1"}],"mark":{"type":"point","shape":"square","filled":false,"size":15,"color":"#4a4a4a","strokeWidth":0.9,"opacity":1},"encoding":{"x":{"field":"r","type":"quantitative","scale":{"domain":[0,0.195],"nice":false,"zero":false},"axis":{"values":[0,0.01,0.02,0.03,0.04,0.05,0.06,0.07,0.08,0.09,0.1,0.11,0.12,0.13,0.14,0.15,0.16,0.17,0.18,0.19],"labelExpr":"abs(datum.value*20-round(datum.value*20))<0.001 ? format(datum.value,'~g') : ''","title":"r/c","titlePadding":1}},"y":{"field":"u","type":"quantitative","scale":{"domain":[0,0.45],"nice":false},"axis":{"values":[0,0.02,0.04,0.06,0.08,0.1,0.12,0.14,0.16,0.18,0.2,0.22,0.24,0.26,0.28,0.3,0.32,0.34,0.36,0.38,0.4,0.42,0.44],"labelExpr":"abs(datum.value*10-round(datum.value*10))<0.001 ? format(datum.value,'~g') : ''","title":null}}}},
{"data":{"name":"a9"},"transform":[{"filter":"datum.f == 1"}],"mark":{"type":"square","size":16,"color":"#111","opacity":1},"encoding":{"x":{"field":"r","type":"quantitative","axis":null},"y":{"field":"u","type":"quantitative","axis":null}}},
{"data":{"name":"a9r"},"mark":{"type":"rule","strokeWidth":1},"encoding":{"x":{"field":"r","type":"quantitative","axis":null},"x2":{"field":"r2"},"y":{"field":"u","type":"quantitative","axis":null},"y2":{"field":"u2"},"strokeDash":{"field":"t","type":"nominal","scale":{"domain":["s","d","sg","dg"],"range":[[1,0],[5,3],[1,0],[5,3]]},"legend":null},"color":{"field":"t","type":"nominal","scale":{"domain":["s","d","sg","dg"],"range":["#444","#333","#888","#888"]},"legend":null}}},
{"data":{"values":[{"r":0.1444,"u":0.379,"s":"x/c"}]},"mark":{"type":"text","font":"Liberation Serif, Times New Roman, serif","fontSize":16,"fontStyle":"italic","align":"left","baseline":"middle","color":"#222"},"encoding":{"x":{"field":"r","type":"quantitative","axis":{"orient":"top","values":[0,0.01,0.02,0.03,0.04,0.05,0.06,0.07,0.08,0.09,0.1,0.11,0.12,0.13,0.14,0.15,0.16,0.17,0.18,0.19],"labels":false,"title":null}},"y":{"field":"u","type":"quantitative","axis":{"orient":"right","values":[0,0.02,0.04,0.06,0.08,0.1,0.12,0.14,0.16,0.18,0.2,0.22,0.24,0.26,0.28,0.3,0.32,0.34,0.36,0.38,0.4,0.42,0.44],"labels":false,"title":null}},"text":{"field":"s"}}},
{"data":{"values":[{"r":0.157,"u":0.379,"s":"= 9.75"}]},"mark":{"type":"text","font":"Liberation Serif, Times New Roman, serif","fontSize":16,"align":"left","baseline":"middle","color":"#222"},"encoding":{"x":{"field":"r","type":"quantitative","axis":null},"y":{"field":"u","type":"quantitative","axis":null},"text":{"field":"s"}}},
{"data":{"values":[{"r":-0.0363,"u":-0.222,"s":"(a)"}]},"mark":{"type":"text","font":"Liberation Serif, Times New Roman, serif","fontSize":22,"fontWeight":"bold","align":"left","baseline":"middle","color":"#111"},"encoding":{"x":{"field":"r","type":"quantitative","axis":null},"y":{"field":"u","type":"quantitative","axis":null},"text":{"field":"s"}}},
{"data":{"values":[{"r":-0.0143,"u":-0.222,"s":"No grid case."}]},"mark":{"type":"text","font":"Liberation Serif, Times New Roman, serif","fontSize":22,"align":"left","baseline":"middle","color":"#111"},"encoding":{"x":{"field":"r","type":"quantitative","axis":null},"y":{"field":"u","type":"quantitative","axis":null},"text":{"field":"s"}}}
]}
]},
{"spacing":2,"hconcat":[
{"bounds":"flush","spacing":20,"vconcat":[
{"width":320,"height":141,"resolve":{"axis":{"x":"independent","y":"independent"}},"layer":[
{"data":{"name":"b1"},"transform":[{"filter":"datum.f != 1"}],"mark":{"type":"point","shape":"square","filled":false,"size":15,"color":"#4a4a4a","strokeWidth":0.9,"opacity":1},"encoding":{"x":{"field":"r","type":"quantitative","scale":{"domain":[0,0.1856],"nice":false,"zero":false},"axis":{"values":[0,0.01,0.02,0.03,0.04,0.05,0.06,0.07,0.08,0.09,0.1,0.11,0.12,0.13,0.14,0.15,0.16,0.17,0.18],"labels":false,"title":null}},"y":{"field":"u","type":"quantitative","scale":{"domain":[0,0.45],"nice":false},"axis":{"values":[0,0.02,0.04,0.06,0.08,0.1,0.12,0.14,0.16,0.18,0.2,0.22,0.24,0.26,0.28,0.3,0.32,0.34,0.36,0.38,0.4,0.42,0.44],"labelExpr":"abs(datum.value*10-round(datum.value*10))<0.001 ? format(datum.value,'~g') : ''","title":null}}}},
{"data":{"name":"b1"},"transform":[{"filter":"datum.f == 1"}],"mark":{"type":"square","size":16,"color":"#111","opacity":1},"encoding":{"x":{"field":"r","type":"quantitative","axis":null},"y":{"field":"u","type":"quantitative","axis":null}}},
{"data":{"name":"b1r"},"mark":{"type":"rule","strokeWidth":1},"encoding":{"x":{"field":"r","type":"quantitative","axis":null},"x2":{"field":"r2"},"y":{"field":"u","type":"quantitative","axis":null},"y2":{"field":"u2"},"strokeDash":{"field":"t","type":"nominal","scale":{"domain":["s","d","sg","dg"],"range":[[1,0],[5,3],[1,0],[5,3]]},"legend":null},"color":{"field":"t","type":"nominal","scale":{"domain":["s","d","sg","dg"],"range":["#444","#333","#888","#888"]},"legend":null}}},
{"data":{"values":[{"r":0.1463,"u":0.378,"s":"x/c"}]},"mark":{"type":"text","font":"Liberation Serif, Times New Roman, serif","fontSize":16,"fontStyle":"italic","align":"left","baseline":"middle","color":"#222"},"encoding":{"x":{"field":"r","type":"quantitative","axis":{"orient":"top","values":[0,0.01,0.02,0.03,0.04,0.05,0.06,0.07,0.08,0.09,0.1,0.11,0.12,0.13,0.14,0.15,0.16,0.17,0.18],"labels":false,"title":null}},"y":{"field":"u","type":"quantitative","axis":{"orient":"right","values":[0,0.02,0.04,0.06,0.08,0.1,0.12,0.14,0.16,0.18,0.2,0.22,0.24,0.26,0.28,0.3,0.32,0.34,0.36,0.38,0.4,0.42,0.44],"labels":false,"title":null}},"text":{"field":"s"}}},
{"data":{"values":[{"r":0.1585,"u":0.378,"s":"= 1.75"}]},"mark":{"type":"text","font":"Liberation Serif, Times New Roman, serif","fontSize":16,"align":"left","baseline":"middle","color":"#222"},"encoding":{"x":{"field":"r","type":"quantitative","axis":null},"y":{"field":"u","type":"quantitative","axis":null},"text":{"field":"s"}}}
]},
{"width":320,"height":141,"resolve":{"axis":{"x":"independent","y":"independent"}},"layer":[
{"data":{"name":"b5"},"transform":[{"filter":"datum.f != 1"}],"mark":{"type":"point","shape":"square","filled":false,"size":15,"color":"#4a4a4a","strokeWidth":0.9,"opacity":1},"encoding":{"x":{"field":"r","type":"quantitative","scale":{"domain":[0,0.1856],"nice":false,"zero":false},"axis":{"values":[0,0.01,0.02,0.03,0.04,0.05,0.06,0.07,0.08,0.09,0.1,0.11,0.12,0.13,0.14,0.15,0.16,0.17,0.18],"labels":false,"title":null}},"y":{"field":"u","type":"quantitative","scale":{"domain":[0,0.45],"nice":false},"axis":{"values":[0,0.02,0.04,0.06,0.08,0.1,0.12,0.14,0.16,0.18,0.2,0.22,0.24,0.26,0.28,0.3,0.32,0.34,0.36,0.38,0.4,0.42,0.44],"labelExpr":"abs(datum.value*10-round(datum.value*10))<0.001 ? format(datum.value,'~g') : ''","title":"U̅θ/Uₒ","titlePadding":15,"titleFontSize":18}}}},
{"data":{"name":"b5"},"transform":[{"filter":"datum.f == 1"}],"mark":{"type":"square","size":16,"color":"#111","opacity":1},"encoding":{"x":{"field":"r","type":"quantitative","axis":null},"y":{"field":"u","type":"quantitative","axis":null}}},
{"data":{"name":"b5r"},"mark":{"type":"rule","strokeWidth":1},"encoding":{"x":{"field":"r","type":"quantitative","axis":null},"x2":{"field":"r2"},"y":{"field":"u","type":"quantitative","axis":null},"y2":{"field":"u2"},"strokeDash":{"field":"t","type":"nominal","scale":{"domain":["s","d","sg","dg"],"range":[[1,0],[5,3],[1,0],[5,3]]},"legend":null},"color":{"field":"t","type":"nominal","scale":{"domain":["s","d","sg","dg"],"range":["#444","#333","#888","#888"]},"legend":null}}},
{"data":{"values":[{"r":0.1463,"u":0.383,"s":"x/c"}]},"mark":{"type":"text","font":"Liberation Serif, Times New Roman, serif","fontSize":16,"fontStyle":"italic","align":"left","baseline":"middle","color":"#222"},"encoding":{"x":{"field":"r","type":"quantitative","axis":{"orient":"top","values":[0,0.01,0.02,0.03,0.04,0.05,0.06,0.07,0.08,0.09,0.1,0.11,0.12,0.13,0.14,0.15,0.16,0.17,0.18],"labels":false,"title":null}},"y":{"field":"u","type":"quantitative","axis":{"orient":"right","values":[0,0.02,0.04,0.06,0.08,0.1,0.12,0.14,0.16,0.18,0.2,0.22,0.24,0.26,0.28,0.3,0.32,0.34,0.36,0.38,0.4,0.42,0.44],"labels":false,"title":null}},"text":{"field":"s"}}},
{"data":{"values":[{"r":0.1585,"u":0.383,"s":"= 5.75"}]},"mark":{"type":"text","font":"Liberation Serif, Times New Roman, serif","fontSize":16,"align":"left","baseline":"middle","color":"#222"},"encoding":{"x":{"field":"r","type":"quantitative","axis":null},"y":{"field":"u","type":"quantitative","axis":null},"text":{"field":"s"}}}
]},
{"width":320,"height":141,"resolve":{"axis":{"x":"independent","y":"independent"}},"layer":[
{"data":{"name":"b9"},"transform":[{"filter":"datum.f != 1"}],"mark":{"type":"point","shape":"square","filled":false,"size":15,"color":"#4a4a4a","strokeWidth":0.9,"opacity":1},"encoding":{"x":{"field":"r","type":"quantitative","scale":{"domain":[0,0.1856],"nice":false,"zero":false},"axis":{"values":[0,0.01,0.02,0.03,0.04,0.05,0.06,0.07,0.08,0.09,0.1,0.11,0.12,0.13,0.14,0.15,0.16,0.17,0.18],"labelExpr":"abs(datum.value*20-round(datum.value*20))<0.001 ? format(datum.value,'~g') : ''","title":"r/c","titlePadding":1}},"y":{"field":"u","type":"quantitative","scale":{"domain":[0,0.45],"nice":false},"axis":{"values":[0,0.02,0.04,0.06,0.08,0.1,0.12,0.14,0.16,0.18,0.2,0.22,0.24,0.26,0.28,0.3,0.32,0.34,0.36,0.38,0.4,0.42,0.44],"labelExpr":"abs(datum.value*10-round(datum.value*10))<0.001 ? format(datum.value,'~g') : ''","title":null}}}},
{"data":{"name":"b9"},"transform":[{"filter":"datum.f == 1"}],"mark":{"type":"square","size":16,"color":"#111","opacity":1},"encoding":{"x":{"field":"r","type":"quantitative","axis":null},"y":{"field":"u","type":"quantitative","axis":null}}},
{"data":{"name":"b9r"},"mark":{"type":"rule","strokeWidth":1},"encoding":{"x":{"field":"r","type":"quantitative","axis":null},"x2":{"field":"r2"},"y":{"field":"u","type":"quantitative","axis":null},"y2":{"field":"u2"},"strokeDash":{"field":"t","type":"nominal","scale":{"domain":["s","d","sg","dg"],"range":[[1,0],[5,3],[1,0],[5,3]]},"legend":null},"color":{"field":"t","type":"nominal","scale":{"domain":["s","d","sg","dg"],"range":["#444","#333","#888","#888"]},"legend":null}}},
{"data":{"values":[{"r":0.1438,"u":0.376,"s":"x/c"}]},"mark":{"type":"text","font":"Liberation Serif, Times New Roman, serif","fontSize":16,"fontStyle":"italic","align":"left","baseline":"middle","color":"#222"},"encoding":{"x":{"field":"r","type":"quantitative","axis":{"orient":"top","values":[0,0.01,0.02,0.03,0.04,0.05,0.06,0.07,0.08,0.09,0.1,0.11,0.12,0.13,0.14,0.15,0.16,0.17,0.18],"labels":false,"title":null}},"y":{"field":"u","type":"quantitative","axis":{"orient":"right","values":[0,0.02,0.04,0.06,0.08,0.1,0.12,0.14,0.16,0.18,0.2,0.22,0.24,0.26,0.28,0.3,0.32,0.34,0.36,0.38,0.4,0.42,0.44],"labels":false,"title":null}},"text":{"field":"s"}}},
{"data":{"values":[{"r":0.1563,"u":0.376,"s":"= 9.75"}]},"mark":{"type":"text","font":"Liberation Serif, Times New Roman, serif","fontSize":16,"align":"left","baseline":"middle","color":"#222"},"encoding":{"x":{"field":"r","type":"quantitative","axis":null},"y":{"field":"u","type":"quantitative","axis":null},"text":{"field":"s"}}},
{"data":{"values":[{"r":-0.0365,"u":-0.222,"s":"(b)"}]},"mark":{"type":"text","font":"Liberation Serif, Times New Roman, serif","fontSize":22,"fontWeight":"bold","align":"left","baseline":"middle","color":"#111"},"encoding":{"x":{"field":"r","type":"quantitative","axis":null},"y":{"field":"u","type":"quantitative","axis":null},"text":{"field":"s"}}},
{"data":{"values":[{"r":-0.0133,"u":-0.222,"s":"Small grid case."}]},"mark":{"type":"text","font":"Liberation Serif, Times New Roman, serif","fontSize":22,"align":"left","baseline":"middle","color":"#111"},"encoding":{"x":{"field":"r","type":"quantitative","axis":null},"y":{"field":"u","type":"quantitative","axis":null},"text":{"field":"s"}}}
]}
]},
{"bounds":"flush","spacing":20,"vconcat":[
{"width":345,"height":141,"resolve":{"axis":{"x":"independent","y":"independent"}},"layer":[
{"data":{"name":"c1"},"transform":[{"filter":"datum.f != 1"}],"mark":{"type":"point","shape":"square","filled":false,"size":15,"color":"#4a4a4a","strokeWidth":0.9,"opacity":1},"encoding":{"x":{"field":"r","type":"quantitative","scale":{"domain":[0,0.2],"nice":false,"zero":false},"axis":{"values":[0,0.01,0.02,0.03,0.04,0.05,0.06,0.07,0.08,0.09,0.1,0.11,0.12,0.13,0.14,0.15,0.16,0.17,0.18,0.19,0.2],"labels":false,"title":null}},"y":{"field":"u","type":"quantitative","scale":{"domain":[0,0.45],"nice":false},"axis":{"values":[0,0.02,0.04,0.06,0.08,0.1,0.12,0.14,0.16,0.18,0.2,0.22,0.24,0.26,0.28,0.3,0.32,0.34,0.36,0.38,0.4,0.42,0.44],"labelExpr":"abs(datum.value*10-round(datum.value*10))<0.001 ? format(datum.value,'~g') : ''","title":null}}}},
{"data":{"name":"c1"},"transform":[{"filter":"datum.f == 1"}],"mark":{"type":"square","size":16,"color":"#111","opacity":1},"encoding":{"x":{"field":"r","type":"quantitative","axis":null},"y":{"field":"u","type":"quantitative","axis":null}}},
{"data":{"name":"c1r"},"mark":{"type":"rule","strokeWidth":1},"encoding":{"x":{"field":"r","type":"quantitative","axis":null},"x2":{"field":"r2"},"y":{"field":"u","type":"quantitative","axis":null},"y2":{"field":"u2"},"strokeDash":{"field":"t","type":"nominal","scale":{"domain":["s","d","sg","dg"],"range":[[1,0],[5,3],[1,0],[5,3]]},"legend":null},"color":{"field":"t","type":"nominal","scale":{"domain":["s","d","sg","dg"],"range":["#333","#333","#888","#888"]},"legend":null}}},
{"data":{"values":[{"r":0.1457,"u":0.376,"s":"x/c"}]},"mark":{"type":"text","font":"Liberation Serif, Times New Roman, serif","fontSize":16,"fontStyle":"italic","align":"left","baseline":"middle","color":"#222"},"encoding":{"x":{"field":"r","type":"quantitative","axis":{"orient":"top","values":[0,0.01,0.02,0.03,0.04,0.05,0.06,0.07,0.08,0.09,0.1,0.11,0.12,0.13,0.14,0.15,0.16,0.17,0.18,0.19,0.2],"labels":false,"title":null}},"y":{"field":"u","type":"quantitative","axis":{"orient":"right","values":[0,0.02,0.04,0.06,0.08,0.1,0.12,0.14,0.16,0.18,0.2,0.22,0.24,0.26,0.28,0.3,0.32,0.34,0.36,0.38,0.4,0.42,0.44],"labels":false,"title":null}},"text":{"field":"s"}}},
{"data":{"values":[{"r":0.1583,"u":0.376,"s":"= 1.75"}]},"mark":{"type":"text","font":"Liberation Serif, Times New Roman, serif","fontSize":16,"align":"left","baseline":"middle","color":"#222"},"encoding":{"x":{"field":"r","type":"quantitative","axis":null},"y":{"field":"u","type":"quantitative","axis":null},"text":{"field":"s"}}}
]},
{"width":345,"height":141,"resolve":{"axis":{"x":"independent","y":"independent"}},"layer":[
{"data":{"name":"c5"},"transform":[{"filter":"datum.f != 1"}],"mark":{"type":"point","shape":"square","filled":false,"size":15,"color":"#4a4a4a","strokeWidth":0.9,"opacity":1},"encoding":{"x":{"field":"r","type":"quantitative","scale":{"domain":[0,0.2],"nice":false,"zero":false},"axis":{"values":[0,0.01,0.02,0.03,0.04,0.05,0.06,0.07,0.08,0.09,0.1,0.11,0.12,0.13,0.14,0.15,0.16,0.17,0.18,0.19,0.2],"labels":false,"title":null}},"y":{"field":"u","type":"quantitative","scale":{"domain":[0,0.45],"nice":false},"axis":{"values":[0,0.02,0.04,0.06,0.08,0.1,0.12,0.14,0.16,0.18,0.2,0.22,0.24,0.26,0.28,0.3,0.32,0.34,0.36,0.38,0.4,0.42,0.44],"labelExpr":"abs(datum.value*10-round(datum.value*10))<0.001 ? format(datum.value,'~g') : ''","title":"U̅θ/Uₒ","titlePadding":15,"titleFontSize":18}}}},
{"data":{"name":"c5"},"transform":[{"filter":"datum.f == 1"}],"mark":{"type":"square","size":16,"color":"#111","opacity":1},"encoding":{"x":{"field":"r","type":"quantitative","axis":null},"y":{"field":"u","type":"quantitative","axis":null}}},
{"data":{"name":"c5r"},"mark":{"type":"rule","strokeWidth":1},"encoding":{"x":{"field":"r","type":"quantitative","axis":null},"x2":{"field":"r2"},"y":{"field":"u","type":"quantitative","axis":null},"y2":{"field":"u2"},"strokeDash":{"field":"t","type":"nominal","scale":{"domain":["s","d","sg","dg"],"range":[[1,0],[5,3],[1,0],[5,3]]},"legend":null},"color":{"field":"t","type":"nominal","scale":{"domain":["s","d","sg","dg"],"range":["#333","#333","#888","#888"]},"legend":null}}},
{"data":{"values":[{"r":0.1463,"u":0.383,"s":"x/c"}]},"mark":{"type":"text","font":"Liberation Serif, Times New Roman, serif","fontSize":16,"fontStyle":"italic","align":"left","baseline":"middle","color":"#222"},"encoding":{"x":{"field":"r","type":"quantitative","axis":{"orient":"top","values":[0,0.01,0.02,0.03,0.04,0.05,0.06,0.07,0.08,0.09,0.1,0.11,0.12,0.13,0.14,0.15,0.16,0.17,0.18,0.19,0.2],"labels":false,"title":null}},"y":{"field":"u","type":"quantitative","axis":{"orient":"right","values":[0,0.02,0.04,0.06,0.08,0.1,0.12,0.14,0.16,0.18,0.2,0.22,0.24,0.26,0.28,0.3,0.32,0.34,0.36,0.38,0.4,0.42,0.44],"labels":false,"title":null}},"text":{"field":"s"}}},
{"data":{"values":[{"r":0.159,"u":0.383,"s":"= 5.75"}]},"mark":{"type":"text","font":"Liberation Serif, Times New Roman, serif","fontSize":16,"align":"left","baseline":"middle","color":"#222"},"encoding":{"x":{"field":"r","type":"quantitative","axis":null},"y":{"field":"u","type":"quantitative","axis":null},"text":{"field":"s"}}}
]},
{"width":345,"height":141,"resolve":{"axis":{"x":"independent","y":"independent"}},"layer":[
{"data":{"name":"c9"},"transform":[{"filter":"datum.f != 1"}],"mark":{"type":"point","shape":"square","filled":false,"size":15,"color":"#4a4a4a","strokeWidth":0.9,"opacity":1},"encoding":{"x":{"field":"r","type":"quantitative","scale":{"domain":[0,0.2],"nice":false,"zero":false},"axis":{"values":[0,0.01,0.02,0.03,0.04,0.05,0.06,0.07,0.08,0.09,0.1,0.11,0.12,0.13,0.14,0.15,0.16,0.17,0.18,0.19,0.2],"labelExpr":"abs(datum.value*20-round(datum.value*20))<0.001 ? format(datum.value,'~g') : ''","title":"r/c","titlePadding":1}},"y":{"field":"u","type":"quantitative","scale":{"domain":[0,0.45],"nice":false},"axis":{"values":[0,0.02,0.04,0.06,0.08,0.1,0.12,0.14,0.16,0.18,0.2,0.22,0.24,0.26,0.28,0.3,0.32,0.34,0.36,0.38,0.4,0.42,0.44],"labelExpr":"abs(datum.value*10-round(datum.value*10))<0.001 ? format(datum.value,'~g') : ''","title":null}}}},
{"data":{"name":"c9"},"transform":[{"filter":"datum.f == 1"}],"mark":{"type":"square","size":16,"color":"#111","opacity":1},"encoding":{"x":{"field":"r","type":"quantitative","axis":null},"y":{"field":"u","type":"quantitative","axis":null}}},
{"data":{"name":"c9r"},"mark":{"type":"rule","strokeWidth":1},"encoding":{"x":{"field":"r","type":"quantitative","axis":null},"x2":{"field":"r2"},"y":{"field":"u","type":"quantitative","axis":null},"y2":{"field":"u2"},"strokeDash":{"field":"t","type":"nominal","scale":{"domain":["s","d","sg","dg"],"range":[[1,0],[5,3],[1,0],[5,3]]},"legend":null},"color":{"field":"t","type":"nominal","scale":{"domain":["s","d","sg","dg"],"range":["#333","#333","#888","#888"]},"legend":null}}},
{"data":{"values":[{"r":0.1463,"u":0.372,"s":"x/c"}]},"mark":{"type":"text","font":"Liberation Serif, Times New Roman, serif","fontSize":16,"fontStyle":"italic","align":"left","baseline":"middle","color":"#222"},"encoding":{"x":{"field":"r","type":"quantitative","axis":{"orient":"top","values":[0,0.01,0.02,0.03,0.04,0.05,0.06,0.07,0.08,0.09,0.1,0.11,0.12,0.13,0.14,0.15,0.16,0.17,0.18,0.19,0.2],"labels":false,"title":null}},"y":{"field":"u","type":"quantitative","axis":{"orient":"right","values":[0,0.02,0.04,0.06,0.08,0.1,0.12,0.14,0.16,0.18,0.2,0.22,0.24,0.26,0.28,0.3,0.32,0.34,0.36,0.38,0.4,0.42,0.44],"labels":false,"title":null}},"text":{"field":"s"}}},
{"data":{"values":[{"r":0.158,"u":0.372,"s":"= 9.75"}]},"mark":{"type":"text","font":"Liberation Serif, Times New Roman, serif","fontSize":16,"align":"left","baseline":"middle","color":"#222"},"encoding":{"x":{"field":"r","type":"quantitative","axis":null},"y":{"field":"u","type":"quantitative","axis":null},"text":{"field":"s"}}},
{"data":{"values":[{"r":-0.0365,"u":-0.222,"s":"(c)"}]},"mark":{"type":"text","font":"Liberation Serif, Times New Roman, serif","fontSize":22,"fontWeight":"bold","align":"left","baseline":"middle","color":"#111"},"encoding":{"x":{"field":"r","type":"quantitative","axis":null},"y":{"field":"u","type":"quantitative","axis":null},"text":{"field":"s"}}},
{"data":{"values":[{"r":-0.0128,"u":-0.222,"s":"Large grid case"}]},"mark":{"type":"text","font":"Liberation Serif, Times New Roman, serif","fontSize":22,"align":"left","baseline":"middle","color":"#111"},"encoding":{"x":{"field":"r","type":"quantitative","axis":null},"y":{"field":"u","type":"quantitative","axis":null},"text":{"field":"s"}}}
]}
]}
]}
]
}
